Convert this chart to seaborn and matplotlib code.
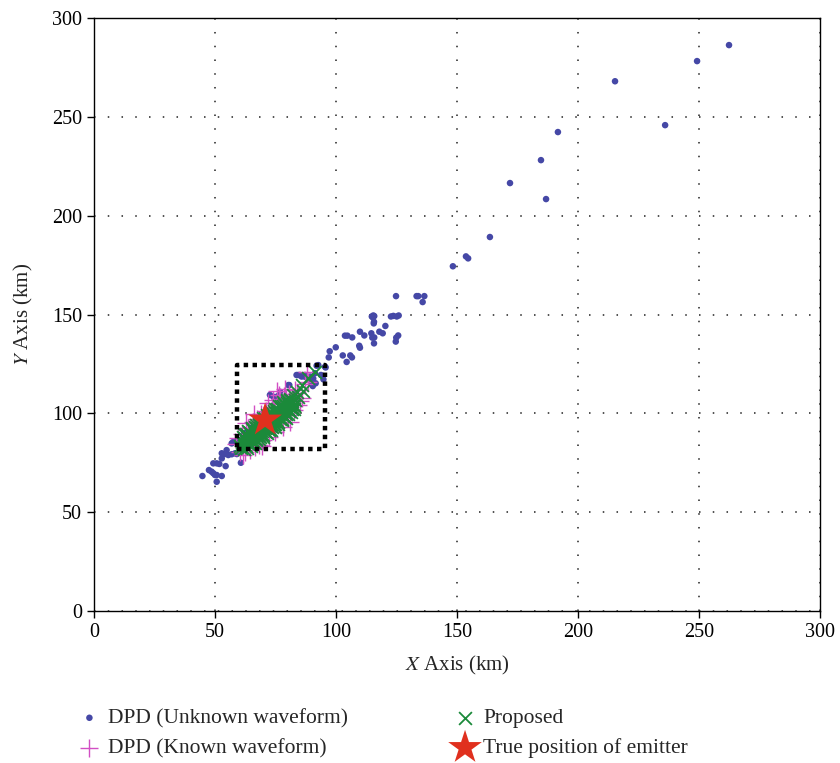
import matplotlib
matplotlib.use("Agg")
import matplotlib.pyplot as plt
import seaborn as sns
import pandas as pd

# ---------------- data ----------------
blue_x = [262.4, 249.2, 215.3, 236.0, 191.7, 184.7, 186.8, 171.9, 163.6, 153.7, 154.6, 148.3,
          124.8, 133.3, 134.0, 136.5, 135.8,
          114.8, 115.4, 115.8, 122.7, 123.7, 125.1, 125.9, 115.2, 115.7, 115.6, 120.4,
          109.9, 111.7, 103.7, 104.7, 106.7, 114.6, 115.0, 115.8, 117.9, 119.3, 125.7, 124.9,
          124.7, 115.7, 109.6, 109.9, 99.9, 97.4, 97.0, 102.8, 105.9, 106.6, 104.4, 95.7,
          84.4, 85.8, 87.2, 89.3, 91.3, 92.7, 95.5, 80.7, 72.7, 74.1, 90.6, 89.7, 92.0, 93.8,
          94.8, 91.6, 90.4, 75.5, 76.9, 76.2, 80.3, 83.1, 83.7, 85.1, 87.2,
          56.9, 54.8, 52.8, 54.1, 55.5, 56.9, 58.3, 59.0, 52.8, 49.3, 50.7, 51.8, 54.4, 60.7,
          47.5, 48.6, 49.3, 50.0, 50.7, 52.8, 44.8, 50.7, 57.5, 59.5, 61.5, 63.0, 65.5, 68.0]
blue_y = [286.3, 278.2, 268.0, 245.8, 242.3, 228.1, 208.4, 216.5, 189.2, 179.4, 178.4, 174.4,
          159.3, 159.3, 159.3, 159.3, 156.3,
          149.0, 149.5, 149.2, 149.0, 149.3, 149.0, 149.5, 148.6, 146.3, 145.5, 144.2,
          141.3, 139.4, 139.3, 139.3, 138.4, 140.5, 138.3, 138.4, 141.3, 140.5, 139.4, 138.3,
          136.3, 135.4, 134.2, 133.2, 133.4, 131.4, 128.3, 129.3, 129.3, 128.3, 126.0, 123.2,
          119.4, 118.6, 119.4, 118.6, 120.3, 124.4, 123.6, 114.3, 109.3, 108.4, 117.6, 115.5, 124.1, 119.4,
          117.2, 115.2, 113.8, 108.4, 110.9, 108.8, 114.3, 110.1, 119.4, 119.4, 118.5,
          84.8, 81.4, 79.8, 79.4, 78.9, 79.3, 79.8, 79.4, 77.2, 74.7, 74.7, 74.4, 73.3, 75.0,
          71.3, 70.5, 69.7, 68.8, 68.8, 68.3, 68.3, 65.4, 85.5, 86.5, 89.0, 90.5, 93.0, 95.5]

known_x = [58.5, 59.5, 60.2, 61.0, 62.5, 63.5, 64.5, 65.5, 66.5, 67.5, 68.0, 69.0, 70.0, 71.0,
           72.5, 73.5, 75.0, 76.0, 77.0, 78.0, 78.5, 79.5, 80.5, 81.0, 82.0, 83.0, 84.0, 85.0,
           86.0, 87.0, 88.4, 87.9, 74.0, 76.5, 72.0, 66.0, 63.0, 61.5, 69.5, 80.0, 82.5, 84.5,
           75.5, 79.0, 64.0, 67.0, 70.5, 73.0, 77.5, 81.5]
known_y = [84.5, 87.5, 80.5, 89.8, 80.3, 92.5, 81.5, 95.5, 83.0, 97.0, 84.0, 99.5, 86.5, 101.0,
           88.0, 103.0, 90.5, 104.5, 107.5, 93.0, 109.0, 108.0, 110.0, 95.5, 107.5, 112.0, 110.5, 106.0,
           108.0, 115.0, 115.8, 121.0, 107.0, 109.5, 105.0, 99.5, 95.0, 79.0, 83.5, 99.0, 101.5, 104.0,
           111.5, 112.5, 88.0, 91.0, 95.0, 97.5, 101.0, 105.0]

prop_x = [60.5, 61.7, 62.9, 64.0, 65.2, 66.4, 67.5, 68.7, 69.9, 71.0, 72.2, 73.4, 74.5, 75.7,
          76.9, 78.0, 79.2, 80.4, 81.6,
          60.8, 62.1, 63.3, 64.6, 65.8, 67.1, 68.3, 69.6, 70.8, 72.1, 73.3, 74.6, 75.8, 77.1,
          78.3, 79.6, 80.9,
          61.8, 63.0, 64.3, 65.5, 66.8, 68.0, 69.3, 70.5, 71.8, 73.0, 74.3, 75.5, 76.8, 78.0,
          79.3, 80.6, 81.9,
          62.0, 63.6, 65.2, 66.8, 68.4, 70.0, 71.6, 73.2, 74.8, 76.4, 78.0, 79.6,
          65.0, 66.6, 68.2, 69.8, 71.4, 73.0, 74.6, 76.2, 77.8, 79.4,
          61.3, 62.6, 63.8, 65.0, 66.2, 67.4, 68.6, 69.8, 71.0, 72.2, 73.4, 74.6, 75.8, 77.0,
          78.2, 79.4, 80.6, 81.8,
          60.9, 62.2, 63.4, 64.6, 65.8, 67.0, 68.2, 69.4, 70.6, 71.8, 73.0, 74.2, 75.4, 76.6,
          77.8, 79.0, 80.2, 81.4, 82.6,
          61.5, 62.8, 64.1, 65.4, 66.7, 68.0, 69.3, 70.6, 71.9, 73.2, 74.5, 75.8, 77.1, 78.4,
          79.7, 81.0,
          63.2, 64.5, 65.8, 67.1, 68.4, 69.7, 71.0, 72.3, 73.6, 74.9, 76.2, 77.5, 78.8, 80.1,
          81.4, 82.7,
          82.4, 83.7, 84.5, 85.8, 86.5, 88.6, 91.3, 83.0, 82.8]
prop_y = [83.5, 84.8, 85.8, 87.1, 88.1, 89.5, 90.4, 91.8, 92.8, 94.1, 95.1, 96.5, 97.4, 98.8,
          99.8, 101.1, 102.1, 103.5, 104.5,
          86.5, 87.4, 88.9, 90.0, 91.4, 92.5, 93.9, 95.0, 96.4, 97.5, 98.9, 100.0, 101.4, 102.5,
          103.9, 105.0, 106.5,
          82.2, 83.6, 84.7, 86.1, 87.2, 88.6, 89.7, 91.1, 92.2, 93.6, 94.7, 96.1, 97.2, 98.6,
          99.7, 101.2, 102.3,
          89.6, 91.0, 92.8, 94.2, 96.0, 97.4, 99.2, 100.6, 102.4, 103.8, 105.6, 107.0,
          83.6, 85.0, 86.8, 88.2, 90.0, 91.4, 93.2, 94.6, 96.4, 97.8,
          85.5, 86.8, 88.0, 89.2, 90.4, 91.6, 92.8, 94.0, 95.2, 96.4, 97.6, 98.8, 100.0, 101.2,
          102.4, 103.6, 104.8, 106.0,
          82.7, 84.0, 85.2, 86.4, 87.6, 88.8, 90.0, 91.2, 92.4, 93.6, 94.8, 96.0, 97.2, 98.4,
          99.6, 100.8, 102.0, 103.2, 104.4,
          88.0, 89.3, 90.6, 91.9, 93.2, 94.5, 95.8, 97.1, 98.4, 99.7, 101.0, 102.3, 103.6, 104.9,
          106.2, 107.5,
          82.7, 84.0, 85.3, 86.6, 87.9, 89.2, 90.5, 91.8, 93.1, 94.4, 95.7, 97.0, 98.3, 99.6,
          100.9, 102.2,
          109.3, 110.9, 108.2, 114.3, 111.5, 117.7, 121.0, 106.8, 103.5]

true_x = [70.7]
true_y = [96.6]

box_x = [59.0, 95.5, 95.5, 59.0, 59.0]
box_y = [82.0, 82.0, 124.4, 124.4, 82.0]

ticks = [0, 50, 100, 150, 200, 250, 300]
labels = ["DPD (Unknown waveform)", "DPD (Known waveform)", "Proposed", "True position of emitter"]

# ---------------- style ----------------
sns.set_theme(style="ticks")
plt.rcParams["font.family"] = ["Liberation Serif", "DejaVu Serif"]
plt.rcParams["mathtext.fontset"] = "stix"

fig = plt.figure(figsize=(8.4, 7.63), dpi=100)
ax = fig.add_axes([0.1119, 0.1992, 0.8643, 0.7772])

df_u = pd.DataFrame({"x": blue_x, "y": blue_y})
df_k = pd.DataFrame({"x": known_x, "y": known_y})
df_p = pd.DataFrame({"x": prop_x, "y": prop_y})
df_t = pd.DataFrame({"x": true_x, "y": true_y})

sns.scatterplot(data=df_u, x="x", y="y", ax=ax, color="#4548a6", s=22, edgecolor="none",
                label=labels[0], zorder=3)
sns.scatterplot(data=df_k, x="x", y="y", ax=ax, color="#d24fc4", marker="+", s=160,
                linewidth=1.0, label=labels[1], zorder=4)
sns.scatterplot(data=df_p, x="x", y="y", ax=ax, color="#1b8a3a", marker="x", s=85,
                linewidth=1.3, label=labels[2], zorder=5)
sns.scatterplot(data=df_t, x="x", y="y", ax=ax, color="#e0301e", marker="*", s=650,
                edgecolor="none", label=labels[3], zorder=7)

ax.plot(box_x, box_y, color="black", lw=3.2, linestyle=(0, (1, 1)), zorder=6,
        solid_capstyle="butt", dash_capstyle="butt")

ax.set_xlim(0, 300)
ax.set_ylim(0, 300)
ax.set_xticks(ticks)
ax.set_yticks(ticks)
ax.grid(True, color="#222222", linestyle=(0, (1, 8)), linewidth=1.1)
for s in ax.spines.values():
    s.set_visible(True)
    s.set_color("black")
    s.set_linewidth(1.0)
ax.tick_params(axis="both", direction="out", length=5, width=1, colors="black",
               labelsize=14.5, top=False, right=False)
ax.set_xlabel(r"$X$ Axis (km)", fontsize=15, labelpad=9)
ax.set_ylabel(r"$Y$ Axis (km)", fontsize=15, labelpad=12)

handles, labs = ax.get_legend_handles_labels()
ax.get_legend().remove()
fig.legend(handles, labs, loc="upper left", bbox_to_anchor=(0.068, 0.097), ncol=2,
           frameon=False, fontsize=15.5, columnspacing=4.85, handletextpad=0.25,
           labelspacing=0.45, handlelength=1.2)

fig.savefig("out.png", dpi=100)
